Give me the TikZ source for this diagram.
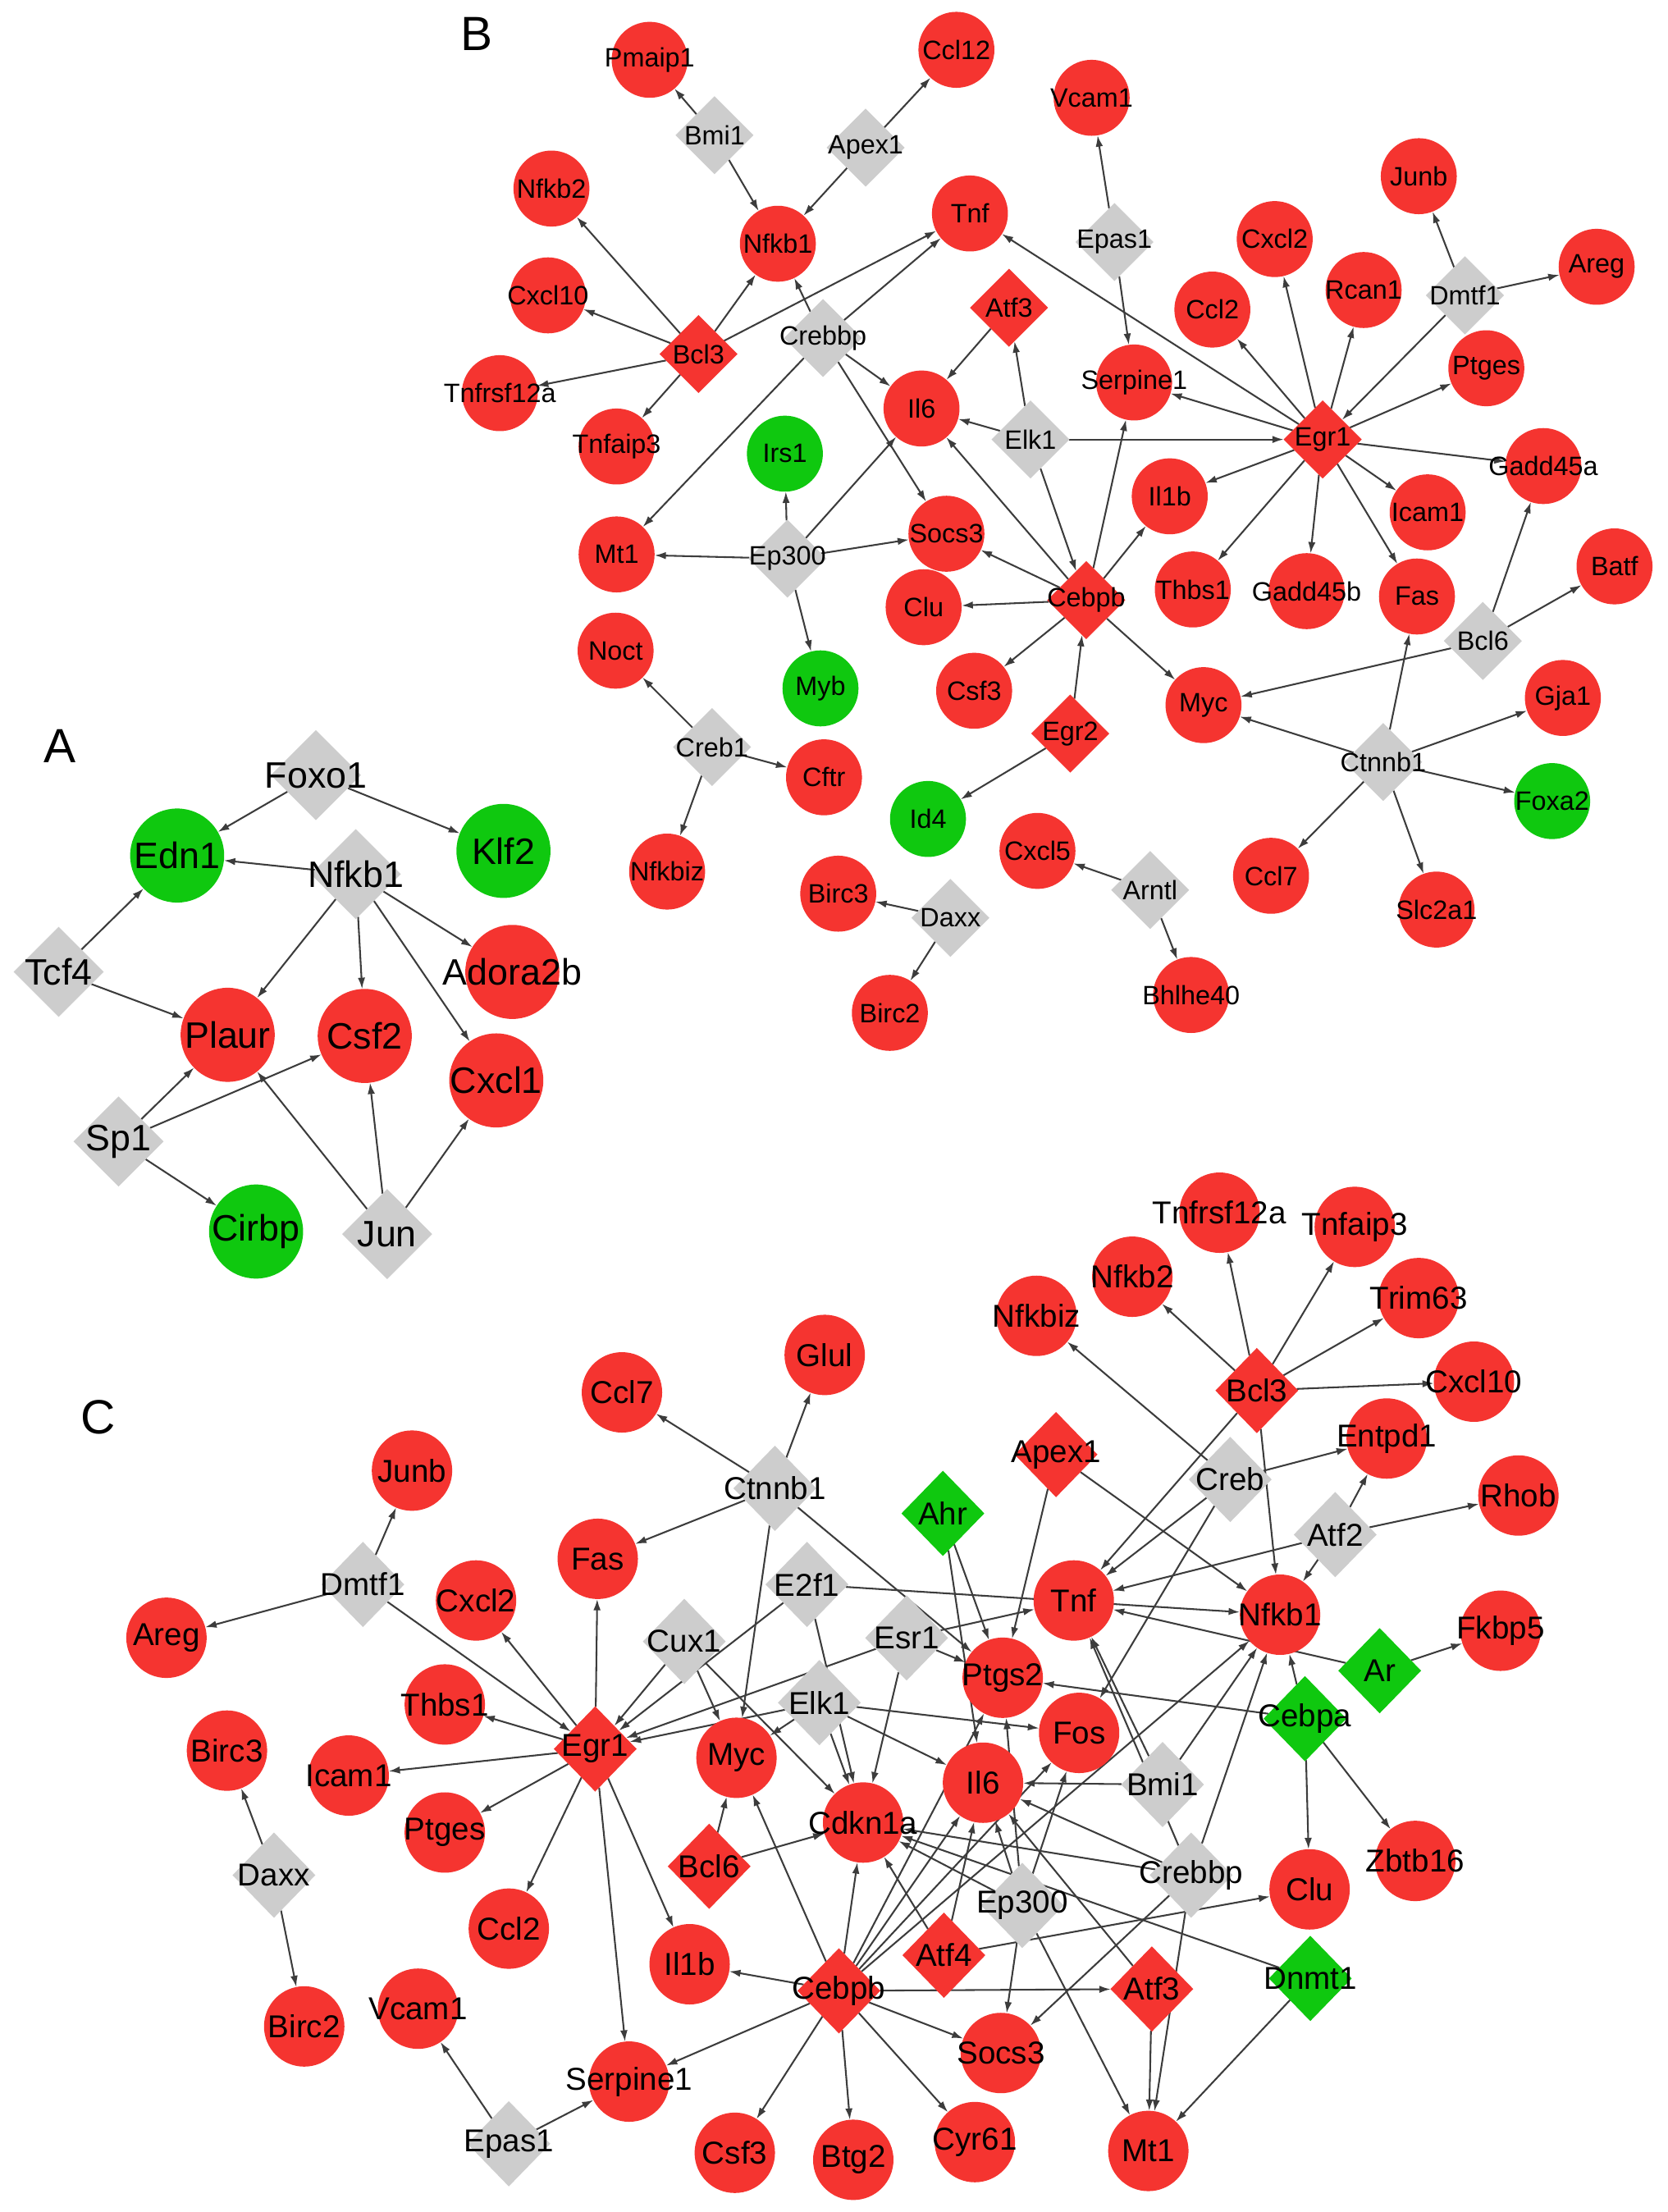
\documentclass[tikz,border=0pt]{standalone}
\usepackage{fontspec}
\setmainfont{Liberation Sans}
\usetikzlibrary{shapes.geometric,arrows.meta}
\pgfdeclarelayer{background}
\pgfdeclarelayer{paper}
\pgfsetlayers{paper,background,main}
\definecolor{nred}{RGB}{245,52,48}
\definecolor{ngreen}{RGB}{15,200,15}
\definecolor{ngray}{RGB}{205,205,205}
\definecolor{edgec}{RGB}{60,60,60}
\newcommand\fA{\fontsize{13}{13}\selectfont}
\newcommand\fB{\fontsize{9.4}{9.4}\selectfont}
\newcommand\fC{\fontsize{11.2}{11.2}\selectfont}
\newcommand\fL{\fontsize{17}{17}\selectfont}
\tikzset{
  base/.style={inner sep=0pt, outer sep=0pt, draw=none},
  Ac/.style={base, circle, minimum size=1.17cm, fill=nred, label={[font=\fA]center:#1}},
  AcG/.style={Ac=#1, fill=ngreen},
  Ad/.style={base, diamond, minimum width=1.12cm, minimum height=1.12cm, fill=ngray, label={[font=\fA]center:#1}},
  Bc/.style={base, circle, minimum size=0.945cm, fill=nred, label={[font=\fB]center:#1}},
  BcG/.style={Bc=#1, fill=ngreen},
  Bd/.style={base, diamond, minimum width=0.97cm, minimum height=0.97cm, fill=ngray, label={[font=\fB]center:#1}},
  BdR/.style={Bd=#1, fill=nred},
  Cc/.style={base, circle, minimum size=1.0cm, fill=nred, label={[font=\fC]center:#1}},
  Cd/.style={base, diamond, minimum width=1.03cm, minimum height=1.06cm, fill=ngray, label={[font=\fC]center:#1}},
  CdR/.style={Cd=#1, fill=nred},
  CdG/.style={Cd=#1, fill=ngreen},
  ed/.style={draw=edgec, line width=0.6pt, -{Latex[length=4pt,width=2.6pt]}},
  plabel/.style={font=\fL, inner sep=0pt}
}
\begin{document}
\begin{tikzpicture}[x=0.0175cm, y=-0.0175cm]
\useasboundingbox (0,0) rectangle (1185,1572);
\begin{pgfonlayer}{paper}
\fill[white] (0,0) rectangle (1185,1572);
\end{pgfonlayer}
% panel labels
\node[plabel] (labA) at (42.5,530) {A};
\node[plabel] (labB) at (338.8,24) {B};
\node[plabel] (labC) at (69.5,1007) {C};
% ---------------- Panel A
\node[Ad=Foxo1] (a-foxo1) at (224.5,550.9) {};
\node[AcG=Edn1] (a-edn1) at (125.9,608) {};
\node[AcG=Klf2] (a-klf2) at (357.8,604.7) {};
\node[Ad=Nfkb1] (a-nfkb1) at (252.8,621.2) {};
\node[Ad=Tcf4] (a-tcf4) at (41.7,690.7) {};
\node[Ac=Adora2b] (a-adora2b) at (364.1,690.7) {};
\node[Ac=Plaur] (a-plaur) at (161.8,735.4) {};
\node[Ac=Csf2] (a-csf2) at (259.2,736.2) {};
\node[Ac=Cxcl1] (a-cxcl1) at (352.7,767.8) {};
\node[Ad=Sp1] (a-sp1) at (84.2,811.2) {};
\node[AcG=Cirbp] (a-cirbp) at (182,875.2) {};
\node[Ad=Jun] (a-jun) at (275.1,877) {};
% ---------------- Panel B
\node[Bc=Pmaip1] (b-pmaip1) at (461.7,42.5) {};
\node[Bc=Ccl12] (b-ccl12) at (679.7,35.4) {};
\node[Bd=Bmi1] (b-bmi1) at (507.8,96.1) {};
\node[Bd=Apex1] (b-apex1) at (615.2,104.9) {};
\node[Bc=Nfkb1] (b-nfkb1) at (552.8,173.2) {};
\node[Bc=Tnf] (b-tnf) at (689.3,151.7) {};
\node[Bc=Vcam1] (b-vcam1) at (775.8,69.5) {};
\node[Bc=Nfkb2] (b-nfkb2) at (391.9,134) {};
\node[Bc=Cxcl10] (b-cxcl10) at (389.4,209.9) {};
\node[Bc=Tnfrsf12a] (b-tnfrsf12a) at (355.2,279.4) {};
\node[BdR=Bcl3] (b-bcl3) at (496.4,251.6) {};
\node[Bd=Crebbp] (b-crebbp) at (584.9,240.2) {};
\node[BdR=Atf3] (b-atf3) at (717.1,218.7) {};
\node[Bc=Il6] (b-il6) at (654.9,290.3) {};
\node[Bd=Elk1] (b-elk1) at (732.3,312.3) {};
\node[BcG=Irs1] (b-irs1) at (557.8,322.4) {};
\node[Bc=Tnfaip3] (b-tnfaip3) at (438.2,317.3) {};
\node[Bc=Socs3] (b-socs3) at (672.6,379.3) {};
\node[Bc=Mt1] (b-mt1) at (438.2,394) {};
\node[Bd=Ep300] (b-ep300) at (559.6,397) {};
\node[Bd=Epas1] (b-epas1) at (792,172) {};
\node[Bc=Serpine1] (b-serpine1) at (806,271.8) {};
\node[Bc=Cxcl2] (b-cxcl2) at (905.9,169.9) {};
\node[Bc=Ccl2] (b-ccl2) at (861.6,220) {};
\node[Bc=Rcan1] (b-rcan1) at (969.1,206.1) {};
\node[Bc=Junb] (b-junb) at (1008.3,125.2) {};
\node[Bd=Dmtf1] (b-dmtf1) at (1041.1,209.9) {};
\node[Bc=Areg] (b-areg) at (1134.7,189.6) {};
\node[Bc=Ptges] (b-ptges) at (1056.3,261.7) {};
\node[BdR=Egr1] (b-egr1) at (940,312.3) {};
\node[Bc=Gadd45a] (b-gadd45a) at (1096.8,331.2) {};
\node[Bc=Il1b] (b-il1b) at (831.3,352.7) {};
\node[Bc=Icam1] (b-icam1) at (1014.6,364.1) {};
\node[Bc=Thbs1] (b-thbs1) at (847.7,418.9) {};
\node[Bc=Gadd45b] (b-gadd45b) at (928.6,420.1) {};
\node[Bc=Fas] (b-fas) at (1007,423.9) {};
\node[Bc=Batf] (b-batf) at (1147.4,402.5) {};
\node[Bd=Bcl6] (b-bcl6) at (1053.8,455.5) {};
\node[Bc=Myc] (b-myc) at (855.3,501.1) {};
\node[Bc=Gja1] (b-gja1) at (1110.7,496) {};
\node[Bd=Ctnnb1] (b-ctnnb1) at (983,541.5) {};
\node[BcG=Foxa2] (b-foxa2) at (1103.1,569.3) {};
\node[Bc=Ccl7] (b-ccl7) at (903.3,622.4) {};
\node[Bc=Slc2a1] (b-slc2a1) at (1020.9,646.4) {};
\node[Bd=Arntl] (b-arntl) at (817.4,632.5) {};
\node[Bc=Bhlhe40] (b-bhlhe40) at (846.5,707.1) {};
\node[Bc=Clu] (b-clu) at (656.4,431.5) {};
\node[BdR=Cebpb] (b-cebpb) at (772,426.5) {};
\node[Bc=Noct] (b-noct) at (437.5,462.4) {};
\node[BcG=Myb] (b-myb) at (583.1,489.2) {};
\node[Bc=Csf3] (b-csf3) at (692.3,490.9) {};
\node[BdR=Egr2] (b-egr2) at (760.6,521.3) {};
\node[Bd=Creb1] (b-creb1) at (506,530.9) {};
\node[Bc=Cftr] (b-cftr) at (585.6,552.4) {};
\node[BcG=Id4] (b-id4) at (659.5,582) {};
\node[Bc=Cxcl5] (b-cxcl5) at (737.3,604.7) {};
\node[Bc=Nfkbiz] (b-nfkbiz) at (474.1,619.4) {};
\node[Bc=Birc3] (b-birc3) at (595.7,635.1) {};
\node[Bd=Daxx] (b-daxx) at (675.4,652.3) {};
\node[Bc=Birc2] (b-birc2) at (632.4,719.8) {};
% ---------------- Panel C
\node[Cc=Tnfrsf12a] (c-tnfrsf12a) at (866.7,861.8) {};
\node[Cc=Tnfaip3] (c-tnfaip3) at (962.8,871.9) {};
\node[Cc=Nfkb2] (c-nfkb2) at (804.7,907.3) {};
\node[Cc=Nfkbiz] (c-nfkbiz) at (736.6,935.1) {};
\node[Cc=Trim63] (c-trim63) at (1008.3,922.5) {};
\node[Cc=Glul] (c-glul) at (586.1,962.9) {};
\node[CdR=Bcl3] (c-bcl3) at (893.2,988.2) {};
\node[Cc=Cxcl10] (c-cxcl10) at (1047.5,981.9) {};
\node[Cc=Ccl7] (c-ccl7) at (442,989.5) {};
\node[Cc=Entpd1] (c-entpd1) at (985.5,1022.3) {};
\node[CdR=Apex1] (c-apex1) at (750.5,1033.7) {};
\node[Cd=Creb] (c-creb) at (874.3,1051.4) {};
\node[Cc=Junb] (c-junb) at (292.8,1045.1) {};
\node[Cd=Ctnnb1] (c-ctnnb1) at (550.7,1057.7) {};
\node[Cc=Rhob] (c-rhob) at (1079.1,1062.8) {};
\node[CdG=Ahr] (c-ahr) at (670.1,1075.5) {};
\node[Cd=Atf2] (c-atf2) at (948.9,1090.6) {};
\node[Cc=Fas] (c-fas) at (424.8,1107.8) {};
\node[Cd=Dmtf1] (c-dmtf1) at (257.9,1126) {};
\node[Cd=E2f1] (c-e2f1) at (573.5,1126) {};
\node[Cc=Cxcl2] (c-cxcl2) at (338.3,1137.4) {};
\node[Cc=Tnf] (c-tnf) at (763.1,1137.4) {};
\node[Cc=Nfkb1] (c-nfkb1) at (909.7,1147.5) {};
\node[Cc=Fkbp5] (c-fkbp5) at (1066.4,1158.9) {};
\node[Cc=Areg] (c-areg) at (118.3,1163.9) {};
\node[Cd=Cux1] (c-cux1) at (486.3,1166.5) {};
\node[Cd=Esr1] (c-esr1) at (644.3,1164) {};
\node[CdG=Ar] (c-ar) at (980.5,1187.3) {};
\node[Cc=Ptgs2] (c-ptgs2) at (712.6,1192.3) {};
\node[Cd=Elk1] (c-elk1) at (582.3,1210) {};
\node[Cc=Thbs1] (c-thbs1) at (316.1,1211.3) {};
\node[CdG=Cebpa] (c-cebpa) at (927.4,1221.4) {};
\node[Cc=Fos] (c-fos) at (766.9,1231.5) {};
\node[CdR=Egr1] (c-egr1) at (423,1242.9) {};
\node[Cc=Birc3] (c-birc3) at (161.3,1244.1) {};
\node[Cc=Myc] (c-myc) at (523.4,1249.2) {};
\node[Cc=Icam1] (c-icam1) at (247.8,1261.8) {};
\node[Cc=Il6] (c-il6) at (698.6,1266.9) {};
\node[Cd=Bmi1] (c-bmi1) at (826.2,1268.2) {};
\node[Cc=Cdkn1a] (c-cdkn1a) at (613.4,1295.2) {};
\node[Cc=Ptges] (c-ptges) at (316.1,1302.3) {};
\node[Cc=Zbtb16] (c-zbtb16) at (1005.8,1322.5) {};
\node[CdR=Bcl6] (c-bcl6) at (504,1326.3) {};
\node[Cd=Daxx] (c-daxx) at (194.7,1332.6) {};
\node[Cd=Crebbp] (c-crebbp) at (846.5,1332.6) {};
\node[Cc=Clu] (c-clu) at (930.7,1342.7) {};
\node[Cd=Ep300] (c-ep300) at (726.5,1354.1) {};
\node[Cc=Ccl2] (c-ccl2) at (361.6,1370.6) {};
\node[CdR=Atf4] (c-atf4) at (670.8,1389.5) {};
\node[Cc=Il1b] (c-il1b) at (490.1,1395.9) {};
\node[CdG=Dnmt1] (c-dnmt1) at (931.2,1406) {};
\node[CdR=Atf3] (c-atf3) at (818.6,1413.5) {};
\node[CdR=Cebpb] (c-cebpb) at (596.2,1414.8) {};
\node[Cc=Vcam1] (c-vcam1) at (297.1,1427.5) {};
\node[Cc=Birc2] (c-birc2) at (216.2,1440.1) {};
\node[Cc=Socs3] (c-socs3) at (711.3,1459) {};
\node[Cc=Serpine1] (c-serpine1) at (447.1,1479.3) {};
\node[Cd=Epas1] (c-epas1) at (361.6,1523.5) {};
\node[Cc=Cyr61] (c-cyr61) at (692.8,1522.3) {};
\node[Cc=Mt1] (c-mt1) at (816.1,1528.6) {};
\node[Cc=Csf3] (c-csf3) at (522.2,1529.9) {};
\node[Cc=Btg2] (c-btg2) at (606.4,1534.9) {};
% ---------------- Edges
\begin{pgfonlayer}{background}
\foreach \s/\t in {
 a-foxo1/a-edn1, a-foxo1/a-klf2, a-nfkb1/a-edn1, a-nfkb1/a-plaur, a-nfkb1/a-csf2,
 a-nfkb1/a-adora2b, a-nfkb1/a-cxcl1, a-tcf4/a-edn1, a-tcf4/a-plaur, a-sp1/a-plaur,
 a-sp1/a-csf2, a-sp1/a-cirbp, a-jun/a-plaur, a-jun/a-csf2, a-jun/a-cxcl1}
 \draw[ed] (\s) -- (\t);
\foreach \s/\t in {
 b-bmi1/b-pmaip1, b-bmi1/b-nfkb1, b-apex1/b-ccl12, b-apex1/b-nfkb1,
 b-bcl3/b-nfkb2, b-bcl3/b-cxcl10, b-bcl3/b-tnfrsf12a, b-bcl3/b-tnfaip3, b-bcl3/b-nfkb1, b-bcl3/b-tnf,
 b-crebbp/b-nfkb1, b-crebbp/b-tnf, b-crebbp/b-il6, b-crebbp/b-socs3, b-crebbp/b-mt1,
 b-atf3/b-il6, b-elk1/b-atf3, b-elk1/b-il6, b-elk1/b-egr1, b-elk1/b-cebpb,
 b-ep300/b-irs1, b-ep300/b-mt1, b-ep300/b-socs3, b-ep300/b-myb, b-ep300/b-il6,
 b-cebpb/b-socs3, b-cebpb/b-clu, b-cebpb/b-csf3, b-cebpb/b-myc, b-cebpb/b-il6, b-cebpb/b-serpine1, b-cebpb/b-il1b,
 b-egr2/b-cebpb, b-egr2/b-id4, b-epas1/b-vcam1, b-epas1/b-serpine1,
 b-egr1/b-tnf, b-egr1/b-serpine1, b-egr1/b-ccl2, b-egr1/b-cxcl2, b-egr1/b-rcan1, b-egr1/b-ptges,
 b-egr1/b-gadd45a, b-egr1/b-icam1, b-egr1/b-il1b, b-egr1/b-thbs1, b-egr1/b-gadd45b, b-egr1/b-fas,
 b-dmtf1/b-egr1, b-dmtf1/b-junb, b-dmtf1/b-areg,
 b-bcl6/b-gadd45a, b-bcl6/b-batf, b-bcl6/b-myc,
 b-ctnnb1/b-fas, b-ctnnb1/b-myc, b-ctnnb1/b-gja1, b-ctnnb1/b-foxa2, b-ctnnb1/b-ccl7, b-ctnnb1/b-slc2a1,
 b-creb1/b-noct, b-creb1/b-cftr, b-creb1/b-nfkbiz, b-daxx/b-birc3, b-daxx/b-birc2,
 b-arntl/b-cxcl5, b-arntl/b-bhlhe40}
 \draw[ed] (\s) -- (\t);
\foreach \s/\t in {
 c-dmtf1/c-junb, c-dmtf1/c-areg, c-dmtf1/c-egr1, c-daxx/c-birc3, c-daxx/c-birc2,
 c-epas1/c-vcam1, c-epas1/c-serpine1,
 c-egr1/c-cxcl2, c-egr1/c-thbs1, c-egr1/c-icam1, c-egr1/c-ptges, c-egr1/c-ccl2, c-egr1/c-il1b,
 c-egr1/c-serpine1, c-egr1/c-fas,
 c-ctnnb1/c-ccl7, c-ctnnb1/c-glul, c-ctnnb1/c-fas, c-ctnnb1/c-ptgs2, c-ctnnb1/c-myc,
 c-e2f1/c-nfkb1, c-e2f1/c-egr1, c-e2f1/c-cdkn1a,
 c-cux1/c-egr1, c-cux1/c-myc, c-cux1/c-cdkn1a,
 c-elk1/c-egr1, c-elk1/c-myc, c-elk1/c-cdkn1a, c-elk1/c-il6, c-elk1/c-fos,
 c-esr1/c-egr1, c-esr1/c-cdkn1a, c-esr1/c-ptgs2, c-esr1/c-tnf,
 c-apex1/c-nfkb1, c-apex1/c-ptgs2, c-ahr/c-ptgs2, c-ahr/c-il6,
 c-bcl3/c-nfkb2, c-bcl3/c-tnfrsf12a, c-bcl3/c-tnfaip3, c-bcl3/c-trim63, c-bcl3/c-cxcl10,
 c-bcl3/c-nfkb1, c-bcl3/c-tnf,
 c-creb/c-nfkbiz, c-creb/c-entpd1, c-creb/c-tnf, c-creb/c-fos,
 c-atf2/c-entpd1, c-atf2/c-rhob, c-atf2/c-tnf, c-atf2/c-nfkb1,
 c-ar/c-fkbp5, c-ar/c-tnf,
 c-cebpa/c-ptgs2, c-cebpa/c-nfkb1, c-cebpa/c-clu, c-cebpa/c-zbtb16,
 c-bmi1/c-nfkb1, c-bmi1/c-tnf, c-bmi1/c-il6,
 c-crebbp/c-nfkb1, c-crebbp/c-tnf, c-crebbp/c-il6, c-crebbp/c-socs3, c-crebbp/c-mt1, c-crebbp/c-cdkn1a,
 c-atf3/c-mt1, c-atf3/c-il6, c-dnmt1/c-mt1, c-dnmt1/c-cdkn1a,
 c-cebpb/c-il1b, c-cebpb/c-serpine1, c-cebpb/c-csf3, c-cebpb/c-btg2, c-cebpb/c-cyr61, c-cebpb/c-socs3,
 c-cebpb/c-atf3, c-cebpb/c-myc, c-cebpb/c-cdkn1a, c-cebpb/c-il6, c-cebpb/c-ptgs2, c-cebpb/c-fos, c-cebpb/c-nfkb1,
 c-ep300/c-il6, c-ep300/c-ptgs2, c-ep300/c-fos, c-ep300/c-cdkn1a, c-ep300/c-socs3, c-ep300/c-mt1,
 c-atf4/c-il6, c-atf4/c-cdkn1a, c-atf4/c-clu, c-bcl6/c-myc, c-bcl6/c-cdkn1a}
 \draw[ed] (\s) -- (\t);
\end{pgfonlayer}
\end{tikzpicture}
\end{document}
